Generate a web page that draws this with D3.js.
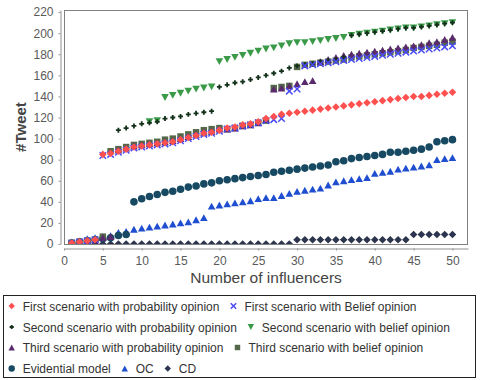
<!DOCTYPE html>
<html><head><meta charset="utf-8">
<script src="https://cdn.jsdelivr.net/npm/d3@7/dist/d3.min.js"></script>
<style>
body{margin:0;background:#fff}
svg{display:block}
text{font-family:"Liberation Sans",Arial,sans-serif}
</style>
</head><body>
<svg id="chart" width="480" height="380"></svg>
<script>
// ---------- data ----------
const xValues = [1,2,3,4,5,6,7,8,9,10,11,12,13,14,15,16,17,18,19,20,21,22,23,24,25,26,27,28,29,30,31,32,33,34,35,36,37,38,39,40,41,42,43,44,45,46,47,48,49,50];
const firstProb = [1,2,3,4,85,86,88,90,92,93,94,95,96,97,99,101,103,105,106,108,110,111,113,114,116,119,121,123,124,125,126,127,128,129,130,131,132,133,134,135,136,137,138,139,140,140,141,142,143,144];
const firstBelief = [1,2,3,4,84,85,87,89,91,92,93,94,95,96,98,100,102,104,105,107,109,110,112,113,115,117,118,119,145,147,169,170,171,172,173,174,175,176,177,178,179,180,181,182,183,184,185,186,187,188];
const secondProb = [null,null,null,null,null,null,108,110,112,114,115,116,119,120,121,123,124,125,126,149,151,153,154,156,158,160,162,164,167,169,170,171,173,174,175,177,198,199,200,201,202,203,204,205,205,206,207,208,209,210];
const secondBelief = [null,null,null,null,null,null,null,null,null,null,116,117,139,141,143,145,147,148,149,173,175,177,179,181,183,185,186,188,190,191,191,192,193,194,195,196,198,199,200,201,202,203,204,205,205,206,207,208,209,210];
const thirdProb = [1,2,3,4,6,7,89,91,93,94,95,96,97,98,100,102,104,106,107,109,109,110,112,113,115,118,147,148,150,152,154,155,173,175,177,179,180,181,182,183,184,185,186,187,188,189,191,192,194,196];
const thirdBelief = [1,2,3,4,7,88,90,92,94,95,96,97,99,100,102,104,106,108,109,110,109,110,112,113,115,117,148,149,150,168,170,171,172,173,174,175,177,178,179,180,181,182,183,184,186,187,188,189,191,192];
const evidential = [1,2,3,4,5,6,8,9,40,43,45,47,49,50,52,54,55,57,58,60,61,62,63,64,65,66,68,69,70,71,72,73,74,75,78,79,81,82,83,84,85,87,87,88,89,90,92,97,98,99];
const oc = [2,3,5,6,7,8,11,12,14,15,16,17,18,19,20,21,23,25,36,37,38,39,40,41,43,44,44,46,48,50,51,52,53,56,59,60,61,62,63,67,68,69,71,72,73,74,75,80,81,82];
const cd = [0,0,0,0,0,0,0,0,0,0,0,0,0,0,0,0,0,0,0,0,0,0,0,0,0,0,0,0,0,4,4,4,4,4,4,4,4,4,4,4,4,4,4,4,9,9,9,9,9,9];
const seriesNames = ["First scenario with probability opinion","First scenario with Belief opinion","Second scenario with probability opinion","Second scenario with belief opinion","Third scenario with probability opinion","Third scenario with belief opinion","Evidential model","OC","CD"];
const xTicks = [0,5,10,15,20,25,30,35,40,45,50];
const yTicks = [0,20,40,60,80,100,120,140,160,180,200,220];
const xTitle = "Number of influencers";
const yTitle = "#Tweet";

// ---------- styles ----------
const seriesValues = [firstProb, firstBelief, secondProb, secondBelief, thirdProb, thirdBelief, evidential, oc, cd];
const shapes = ["diamond","cross","plus","triDown","triUp","square","circle","triUp","diamond"];
const colors = ["#ff5050","#4b4bf5","#13301a","#3a9a48","#5a2a6c","#55694a","#174a62","#1f4fd0","#2c344e"];
const legendRows = [[0,1],[2,3],[4,5],[6,7,8]];

function shapePath(kind, s) {
  const h = s * 0.9;
  switch (kind) {
    case "diamond": return `M0,${-s}L${s},0L0,${s}L${-s},0Z`;
    case "cross": return `M${-s*0.85},${-s*0.85}L${s*0.85},${s*0.85}M${s*0.85},${-s*0.85}L${-s*0.85},${s*0.85}`;
    case "plus": return `M${-s*0.65},0H${s*0.65}M0,${-s*0.65}V${s*0.65}`;
    case "triDown": return `M${-s},${-h}L${s},${-h}L0,${h}Z`;
    case "triUp": return `M0,${-h}L${s},${h}L${-s},${h}Z`;
    case "square": return `M${-s*0.85},${-s*0.85}H${s*0.85}V${s*0.85}H${-s*0.85}Z`;
    case "circle": return d3.symbol(d3.symbolCircle, Math.PI*s*s)();
  }
}
function drawMark(g, kind, color, s) {
  const p = g.append("path").attr("d", shapePath(kind, s));
  if (kind === "cross" || kind === "plus") {
    p.attr("fill","none").attr("stroke",color).attr("stroke-width", kind==="plus"?1.8:1.5);
  } else {
    p.attr("fill",color);
  }
  return p;
}

// ---------- chart ----------
const svg = d3.select("#chart");
const L = 64, R = 468, T = 10, B = 244;
const x = d3.scaleLinear().domain([0,52]).range([L,R]);
const y = d3.scaleLinear().domain([0,222]).range([B,T]);

svg.append("defs").append("clipPath").attr("id","plotClip")
  .append("rect").attr("x",L).attr("y",T).attr("width",R-L).attr("height",B-T);

// plot frame
svg.append("rect").attr("x",L+0.5).attr("y",T+0.5).attr("width",R-L-1).attr("height",B-T)
  .attr("fill","#fff").attr("stroke","#808080");

// axes
const yAxis = svg.append("g").attr("transform",`translate(60.5,0)`)
  .call(d3.axisLeft(y).tickValues(yTicks).tickSize(2).tickSizeOuter(0).tickPadding(5));
const xAxis = svg.append("g").attr("transform",`translate(0,248.5)`)
  .call(d3.axisBottom(x).tickValues(xTicks).tickSize(2).tickSizeOuter(0).tickPadding(6));
[yAxis, xAxis].forEach(a => {
  a.select(".domain").attr("stroke","#909090");
  a.selectAll(".tick line").attr("stroke","#909090");
  a.selectAll(".tick text").attr("fill","#5a5a5a").attr("font-size",12)
    .attr("font-family",'"Liberation Sans",Arial,sans-serif');
});

svg.append("text").attr("x",266).attr("y",283).attr("text-anchor","middle")
  .attr("font-size",15.5).attr("fill","#444").text(xTitle);
svg.append("text").attr("transform","translate(26,127) rotate(-90)").attr("text-anchor","middle")
  .attr("font-size",15).attr("font-weight","bold").attr("fill","#444").text(yTitle);

// series (drawn in reverse order so the first series is on top)
const plot = svg.append("g").attr("clip-path","url(#plotClip)");
for (let i = seriesValues.length - 1; i >= 0; i--) {
  const pts = xValues.map((xv, j) => [xv, seriesValues[i][j]]).filter(d => d[1] !== null);
  const g = plot.append("g");
  pts.forEach(d => {
    const m = g.append("g").attr("transform",`translate(${x(d[0])},${y(d[1])})`);
    drawMark(m, shapes[i], colors[i], 3.8);
  });
}

// legend
svg.append("rect").attr("x",3.5).attr("y",295.5).attr("width",472).attr("height",82)
  .attr("fill","#fff").attr("stroke","#222");
const rowCenters = [306, 327, 347.5, 368.5];
legendRows.forEach((row, r) => {
  let cx = 11.7;
  row.forEach(i => {
    const m = svg.append("g").attr("transform",`translate(${cx},${rowCenters[r]})`);
    drawMark(m, shapes[i], colors[i], 3.2);
    const t = svg.append("text").attr("x",cx+11).attr("y",rowCenters[r]+4.5)
      .attr("font-size",12).attr("fill","#333").text(seriesNames[i]);
    cx = cx + 11 + t.node().getComputedTextLength() + 14;
  });
});
</script>
</body></html>
